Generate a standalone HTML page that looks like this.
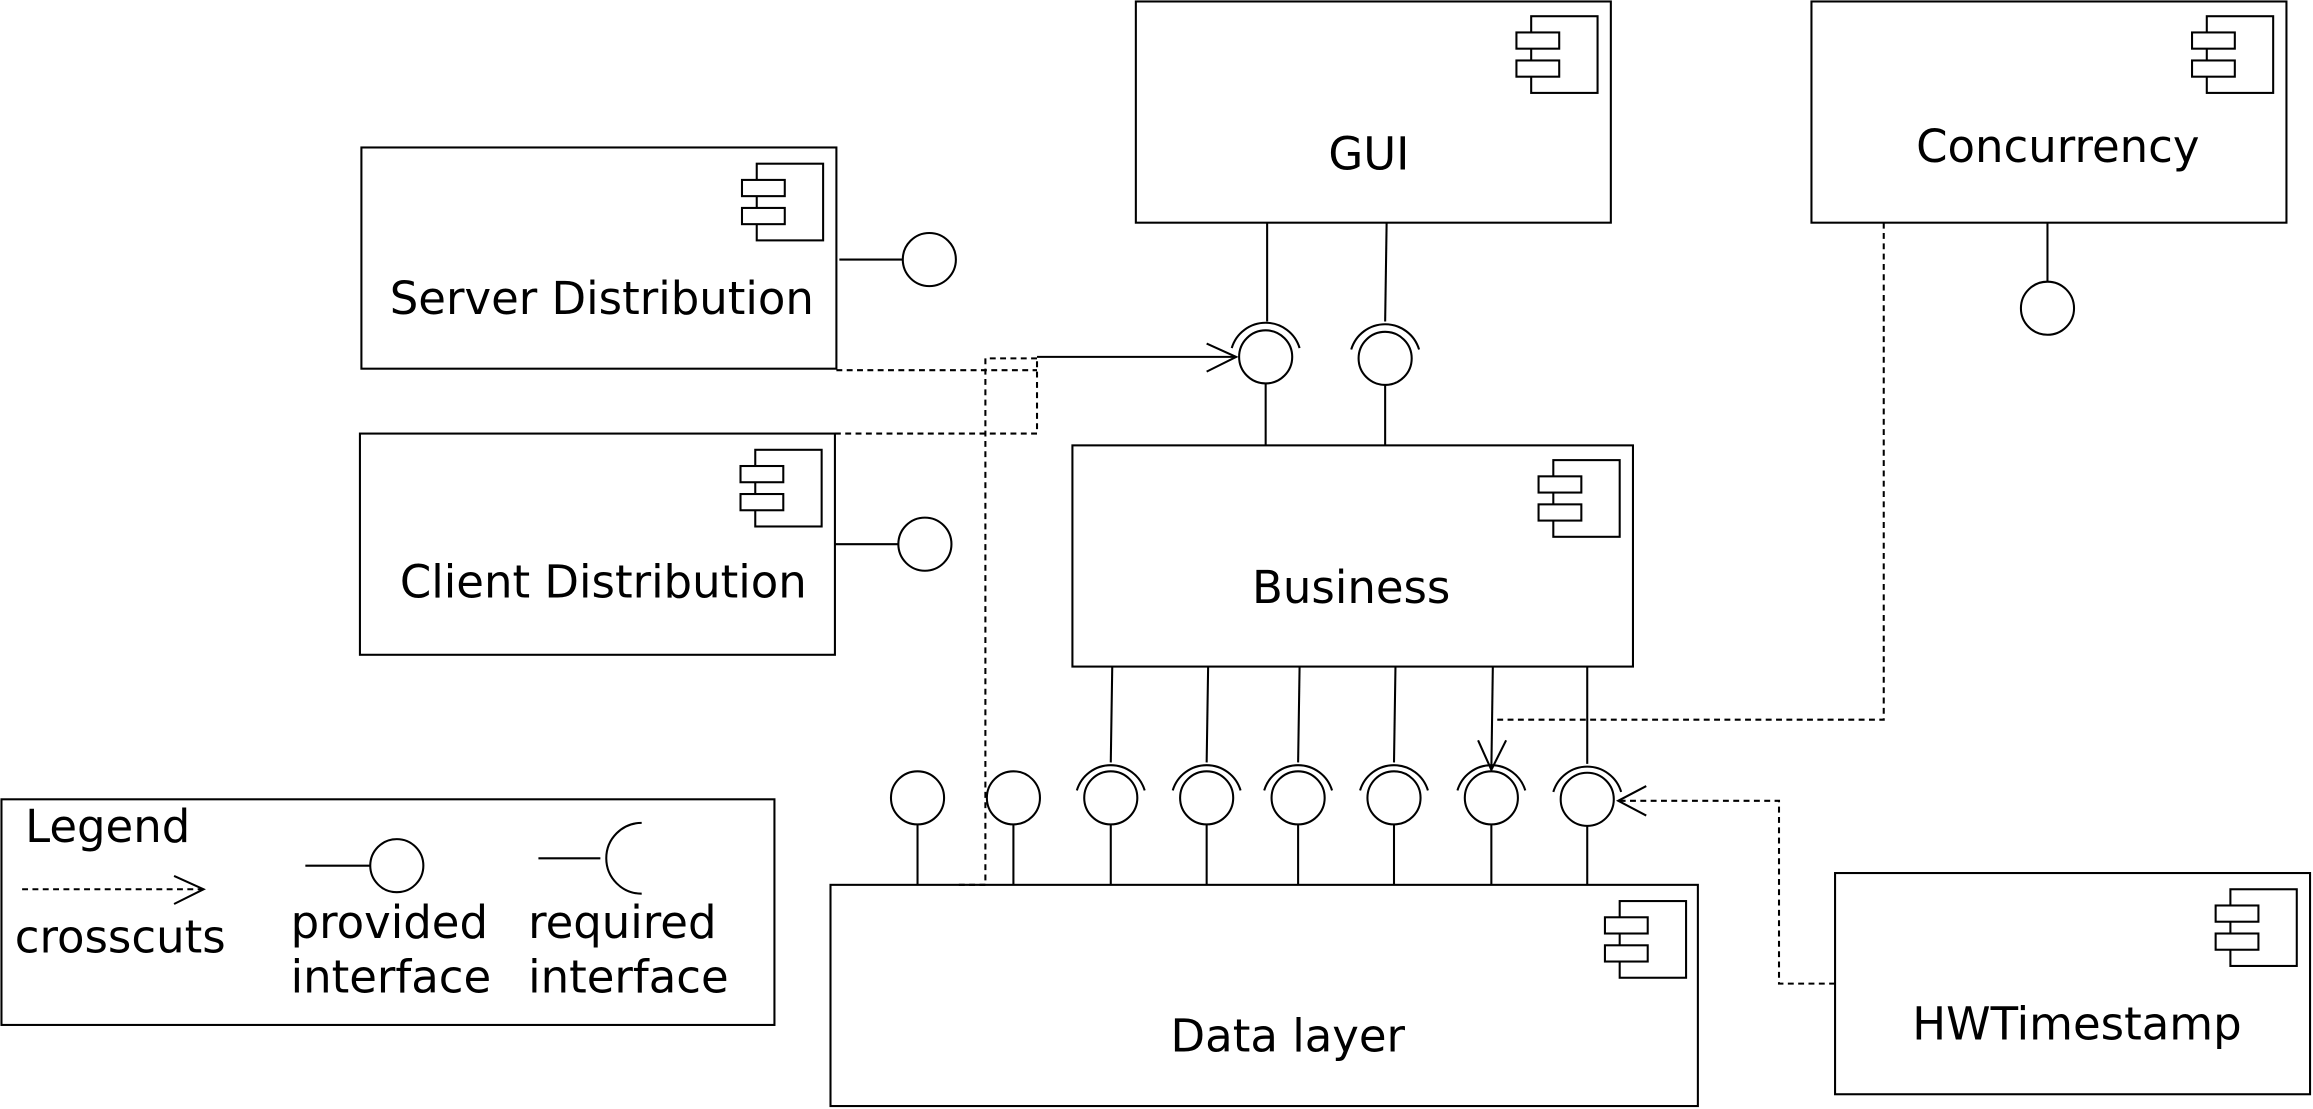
<!DOCTYPE html>
<html><head><meta charset="utf-8"><style>html,body{margin:0;padding:0;background:#fff}svg{display:block}</style></head>
<body>
<svg width="2313" height="1109" viewBox="0 0 1568 752" preserveAspectRatio="none" xmlns="http://www.w3.org/2000/svg" font-family="'DejaVu Sans','Liberation Sans',sans-serif" font-size="30.5">
<defs>
<g id="ic" fill="#fff" stroke="#000" stroke-width="1.4">
<rect x="10" y="0" width="45" height="52"/>
<rect x="0" y="11" width="29" height="11"/>
<rect x="0" y="30" width="29" height="11"/>
</g>
</defs>
<g fill="none" stroke="#000" stroke-width="1.4">
<rect x="770" y="1" width="322" height="150"/>
<rect x="1228" y="1" width="322" height="150"/>
<rect x="245" y="100" width="322" height="150"/>
<rect x="244" y="294" width="322" height="150"/>
<rect x="727" y="302" width="380" height="150"/>
<rect x="563" y="600" width="588" height="150"/>
<rect x="1244" y="592" width="322" height="150"/>
<rect x="1" y="542" width="524" height="153"/>
</g>
<use href="#ic" x="1028" y="11"/>
<use href="#ic" x="1486" y="11"/>
<use href="#ic" x="503" y="111"/>
<use href="#ic" x="502" y="305"/>
<use href="#ic" x="1043" y="312"/>
<use href="#ic" x="1088" y="611"/>
<use href="#ic" x="1502" y="603"/>
<g fill="#000" text-anchor="middle">
<text x="928" y="115">GUI</text>
<text x="1395" y="110">Concurrency</text>
<text x="408" y="213">Server Distribution</text>
<text x="409" y="405">Client Distribution</text>
<text x="916" y="409">Business</text>
<text x="873" y="713">Data layer</text>
<text x="1408" y="705">HWTimestamp</text>
</g>
<g fill="#000">
<text x="17" y="571">Legend</text>
<text x="10" y="646">crosscuts</text>
<text x="197" y="636">provided</text>
<text x="197" y="673">interface</text>
<text x="358" y="636">required</text>
<text x="358" y="673">interface</text>
</g>
<g fill="none" stroke="#000" stroke-width="1.4">
<line x1="1388" y1="151" x2="1388" y2="191"/><circle cx="1388" cy="209" r="18"/>
<line x1="569" y1="176" x2="612" y2="176"/><circle cx="630" cy="176" r="18"/>
<line x1="566" y1="369" x2="609" y2="369"/><circle cx="627" cy="369" r="18"/>
<line x1="859" y1="151" x2="859" y2="218"/><circle cx="858" cy="242" r="18"/>
<path d="M835,236 A24,24 0 0 1 881,236"/>
<line x1="858" y1="260" x2="858" y2="302"/>
<line x1="940" y1="151" x2="939" y2="218"/><circle cx="939" cy="243" r="18"/>
<path d="M916,237 A24,24 0 0 1 962,237"/>
<line x1="939" y1="261" x2="939" y2="302"/>
<circle cx="622" cy="541" r="18"/><line x1="622" y1="559" x2="622" y2="600"/>
<circle cx="687" cy="541" r="18"/><line x1="687" y1="559" x2="687" y2="600"/>
<g>
<circle cx="753" cy="541" r="18"/><path d="M730,536 A24,24 0 0 1 776,536"/><line x1="754" y1="452" x2="753" y2="517"/><line x1="753" y1="559" x2="753" y2="600"/>
<circle cx="818" cy="541" r="18"/><path d="M795,536 A24,24 0 0 1 841,536"/><line x1="819" y1="452" x2="818" y2="517"/><line x1="818" y1="559" x2="818" y2="600"/>
<circle cx="880" cy="541" r="18"/><path d="M857,536 A24,24 0 0 1 903,536"/><line x1="881" y1="452" x2="880" y2="517"/><line x1="880" y1="559" x2="880" y2="600"/>
<circle cx="945" cy="541" r="18"/><path d="M922,536 A24,24 0 0 1 968,536"/><line x1="946" y1="452" x2="945" y2="517"/><line x1="945" y1="559" x2="945" y2="600"/>
<circle cx="1011" cy="541" r="18"/><path d="M988,536 A24,24 0 0 1 1034,536"/><line x1="1012" y1="452" x2="1011" y2="522"/><line x1="1011" y1="559" x2="1011" y2="600"/>
<circle cx="1076" cy="542" r="18"/><path d="M1053,537 A24,24 0 0 1 1099,537"/><line x1="1076" y1="452" x2="1076" y2="518"/><line x1="1076" y1="560" x2="1076" y2="600"/>
</g>
<line x1="703" y1="242" x2="838" y2="242"/>
<polyline points="818,233 838,242 818,252"/>
<polyline points="1002,502 1011,522 1021,502"/>
<polyline points="1116,533 1097,543 1116,553"/>
<line x1="207" y1="587" x2="251" y2="587"/><circle cx="269" cy="587" r="18"/>
<line x1="365" y1="582" x2="407" y2="582"/><path d="M435,558 A24,24 0 0 0 435,606"/>
<polyline points="118,594 138,603 118,613"/>
</g>
<g fill="none" stroke="#000" stroke-width="1.4" stroke-dasharray="4,3">
<polyline points="567,251 703,251"/>
<polyline points="566,294 703,294 703,243"/>
<polyline points="650,600 668,600 668,243 703,243"/>
<polyline points="1277,151 1277,488 1015,488"/>
<polyline points="1244,667 1206,667 1206,543 1097,543"/>
<line x1="15" y1="603" x2="138" y2="603"/>
</g>
</svg>
</body></html>
